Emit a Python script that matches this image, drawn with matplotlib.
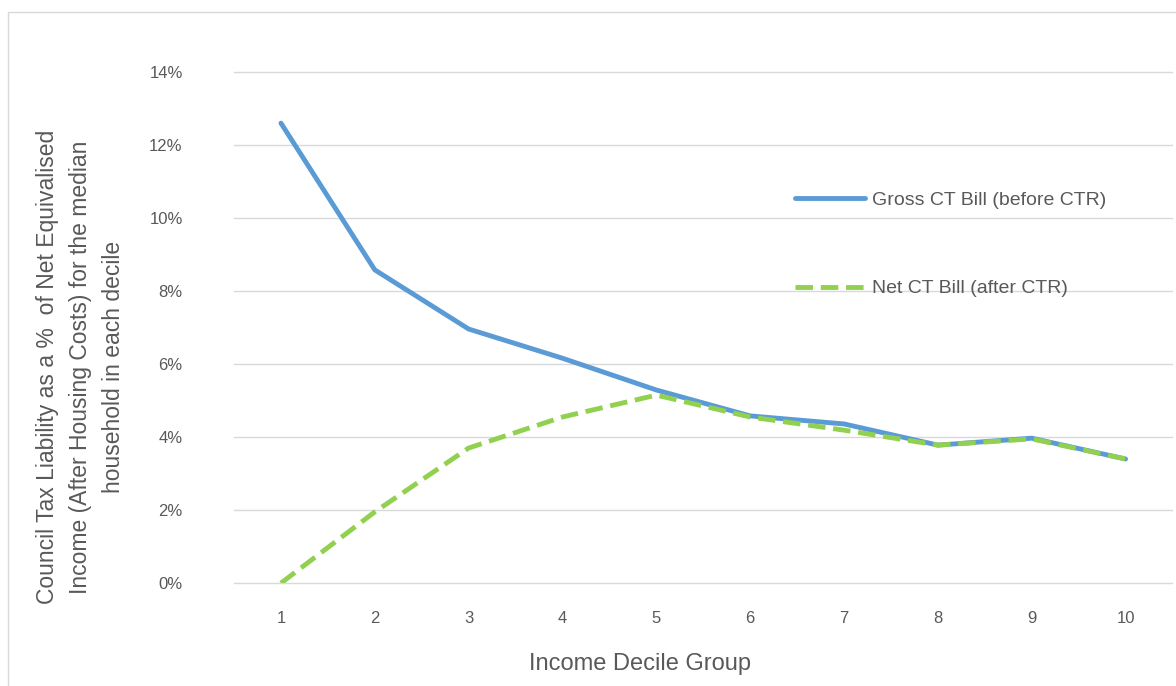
import matplotlib.pyplot as plt
import numpy as np
from matplotlib.ticker import PercentFormatter
from matplotlib.patches import Rectangle

# Council tax liability by income decile
deciles = ['1', '2', '3', '4', '5', '6', '7', '8', '9', '10']
gross = [12.6, 8.58, 6.96, 6.16, 5.29, 4.58, 4.36, 3.78, 3.97, 3.40]
net = [0.0, 1.95, 3.70, 4.55, 5.15, 4.55, 4.19, 3.78, 3.95, 3.40]
yticks = [0, 2, 4, 6, 8, 10, 12, 14]

plt.rcParams['font.family'] = ['Liberation Sans', 'DejaVu Sans']

fig = plt.figure(figsize=(11.76, 6.86), dpi=100)
ax = fig.add_axes([0.199, 0.150, 0.798, 0.745])

x = np.arange(1, len(deciles) + 1)
ax.plot(x, gross, '-', color='#5B9BD5', lw=3.5, solid_capstyle='round',
        label='Gross CT Bill (before CTR)')
ax.plot(x, net, '--', color='#92D050', lw=3.5, dashes=(3.6, 1.6),
        label='Net CT Bill (after CTR)')

ax.set_xlim(0.5, 10.5)
ax.set_ylim(0, 14)
ax.set_xticks(x)
ax.set_xticklabels(deciles)
ax.set_yticks(yticks)
ax.yaxis.set_major_formatter(PercentFormatter(decimals=0))
ax.grid(axis='y', color='#D9D9D9', lw=1)
for gl in ax.get_ygridlines():
    gl.set_clip_on(False)
ax.set_axisbelow(True)
for s in ax.spines.values():
    s.set_visible(False)
ax.tick_params(length=0, labelsize=12, colors='#595959')
ax.tick_params(axis='x', pad=20)
ax.tick_params(axis='y', pad=37)

ax.set_xlabel('Income Decile Group', fontsize=17, color='#595959', va='center')
ax.xaxis.set_label_coords(0.433, -0.158)
ax.set_ylabel('Council Tax Liability as a %  of Net Equivalised\n'
              'Income (After Housing Costs) for the median\n'
              'household in each decile',
              fontsize=16.5, color='#595959', linespacing=1.55, va='center')
ax.yaxis.set_label_coords(-0.164, 0.423)

ax.legend(loc='upper left', bbox_to_anchor=(0.579, 0.801), frameon=False,
          fontsize=14, labelcolor='#595959', handlelength=3.6,
          handletextpad=0.35, labelspacing=3.65)

fig.patches.append(Rectangle((0.007, -0.01), 1.0, 0.993, transform=fig.transFigure,
                             fill=False, edgecolor='#D9D9D9', lw=1))

fig.savefig('out.png', dpi=100)
